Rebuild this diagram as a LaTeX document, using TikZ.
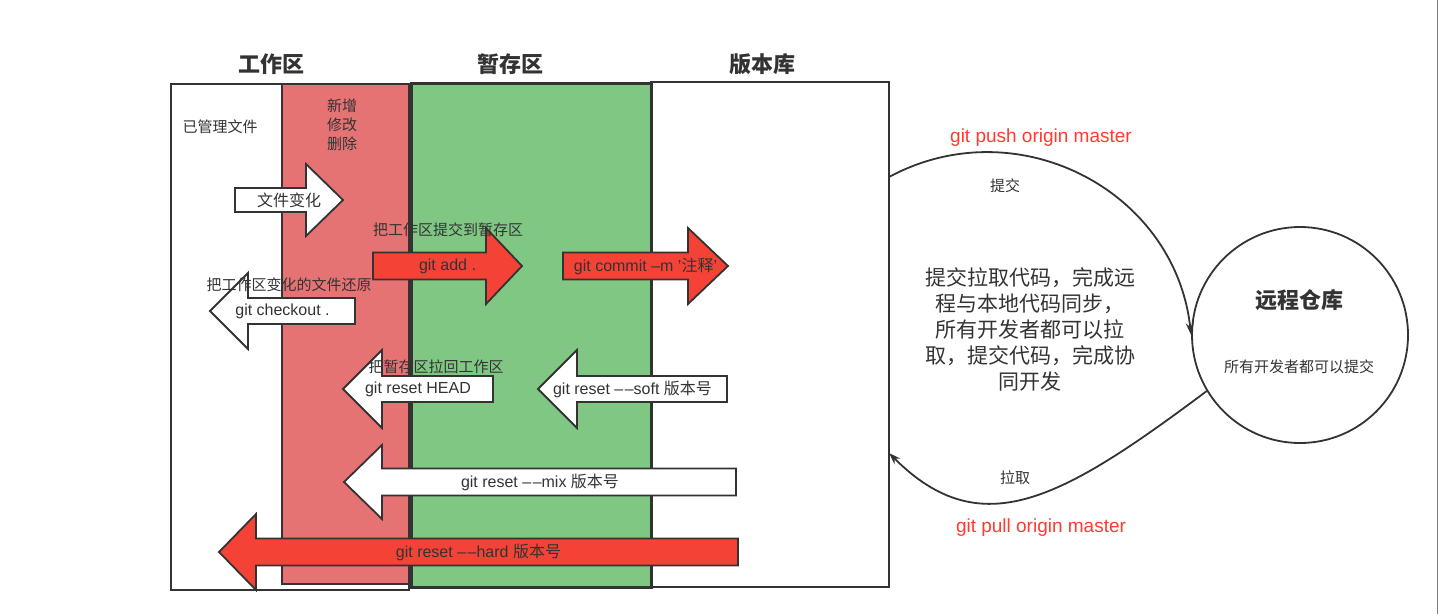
\documentclass[tikz,border=0pt]{standalone}
\usepackage{fontspec}
\setmainfont{Liberation Sans}
\newfontfamily\zh{Noto Sans CJK SC}
\usetikzlibrary{arrows.meta}

\definecolor{framegray}{HTML}{333333}
\definecolor{textgray}{HTML}{333333}
\definecolor{workred}{HTML}{E57373}
\definecolor{stagegreen}{HTML}{81C784}
\definecolor{cmdred}{HTML}{F44336}
\definecolor{remotered}{HTML}{FF3B30}

% fat block arrow: style, name, tip x, head base x, tail x, y, body half, head half, text
\newcommand{\fatarrow}[9]{%
  \draw[#1] (#5,#6-#7) -- (#4,#6-#7) -- (#4,#6-#8) -- (#3,#6) -- (#4,#6+#8) -- (#4,#6+#7) -- (#5,#6+#7) -- cycle;
  \node[cmd] (#2) at ({(#3+#5)/2},#6) {#9};}
\newcommand{\ddash}{–\kern1.5pt–}

\begin{document}
\begin{tikzpicture}[x=1pt,y=-1pt,
  zone/.style={draw=framegray, line width=1.5pt, inner sep=0pt},
  title/.style={font=\zh\bfseries\fontsize{22}{24}\selectfont, text=textgray},
  label/.style={font=\zh\fontsize{15}{18}\selectfont, text=textgray, inner sep=0pt},
  cmd/.style={font=\fontsize{16}{18}\selectfont, text=textgray, inner sep=0pt},
  whitearrow/.style={draw=framegray, fill=white, line width=1.8pt, line join=miter},
  redarrow/.style={draw=framegray, fill=cmdred, line width=1.8pt, line join=miter},
  flow/.style={draw=framegray, line width=1.8pt, -{Stealth[length=12pt,width=8pt]}},
  remotecmd/.style={font=\fontsize{19}{21}\selectfont, text=remotered}]
\useasboundingbox (0,0) rectangle (1439,614);
\draw[line width=1pt, gray] (1437,0) -- (1437,614);

% Columns
\node[zone, fill=white, minimum width=238pt, minimum height=506pt] (workdir) at (290,337) {};
\node[zone, fill=workred, minimum width=127pt, minimum height=500pt] (changes) at (345.5,334) {};
\node[zone, fill=white, minimum width=238pt, minimum height=505pt] (repo) at (770,334.5) {};
\node[zone, fill=stagegreen, line width=3pt, minimum width=240pt, minimum height=504pt] (stage) at (531,335) {};

% Titles
\node[title] (worktitle) at (271,64) {工作区};
\node[title] (stagetitle) at (510,64) {暂存区};
\node[title] (repotitle) at (762,64) {版本库};

% Labels
\node[label] (managed) at (220,127) {已管理文件};
\node[label] (kind1) at (342,106) {新增};
\node[label] (kind2) at (342,125) {修改};
\node[label] (kind3) at (342,144) {删除};

% Arrows
\fatarrow{whitearrow}{filechange}{343}{306}{235}{200}{12}{36}{\zh 文件变化}
\fatarrow{redarrow}{gitadd}{522}{486}{373}{266}{13.5}{38}{git add .}
\fatarrow{redarrow}{gitcommit}{728}{688}{563}{266}{13.5}{38}{git commit –m '{\zh 注释}'}
\fatarrow{whitearrow}{checkout}{210}{248}{355}{311}{13}{38}{git checkout .}
\fatarrow{whitearrow}{resethead}{343}{382}{493}{389}{13}{39}{git reset HEAD}
\fatarrow{whitearrow}{resetsoft}{538}{577}{727}{389}{13}{39}{git reset \ddash soft {\zh 版本号}}
\fatarrow{whitearrow}{resetmix}{344}{382}{736}{482}{13.5}{37}{git reset \ddash mix {\zh 版本号}}
\fatarrow{redarrow}{resethard}{219}{256}{738}{552}{13.5}{38}{git reset \ddash hard {\zh 版本号}}

\node[label] (addnote) at (448,230) {把工作区提交到暂存区};
\node[label] (checkoutnote) at (289,285) {把工作区变化的文件还原};
\node[label] (headnote) at (436,367) {把暂存区拉回工作区};

% Remote
\node[circle, draw=framegray, line width=1.8pt, minimum size=216pt] (remote) at (1300,335) {};
\node[title] (remotename) at (1299,300) {远程仓库};
\node[label] (remotenote) at (1299,367) {所有开发者都可以提交};

\coordinate (pushout) at (889,177);
\coordinate (pullin) at (889,453);
\draw[flow] (pushout) .. controls (1017,108) and (1175,190) .. (remote.west);
\draw[flow] (remote.211) .. controls (1061,500) and (981,545) .. (pullin);

\node[remotecmd] (push) at (1041,138) {git push origin master};
\node[remotecmd] (pull) at (1041,528) {git pull origin master};
\node[label] (pushnote) at (1005,186) {提交};
\node[label] (pullnote) at (1015,478) {拉取};
\node[label, font=\zh\fontsize{21}{26}\selectfont, align=center] (sync) at (1030,329)
  {提交拉取代码，完成远\\程与本地代码同步，\\所有开发者都可以拉\\取，提交代码，完成协\\同开发};
\end{tikzpicture}
\end{document}
